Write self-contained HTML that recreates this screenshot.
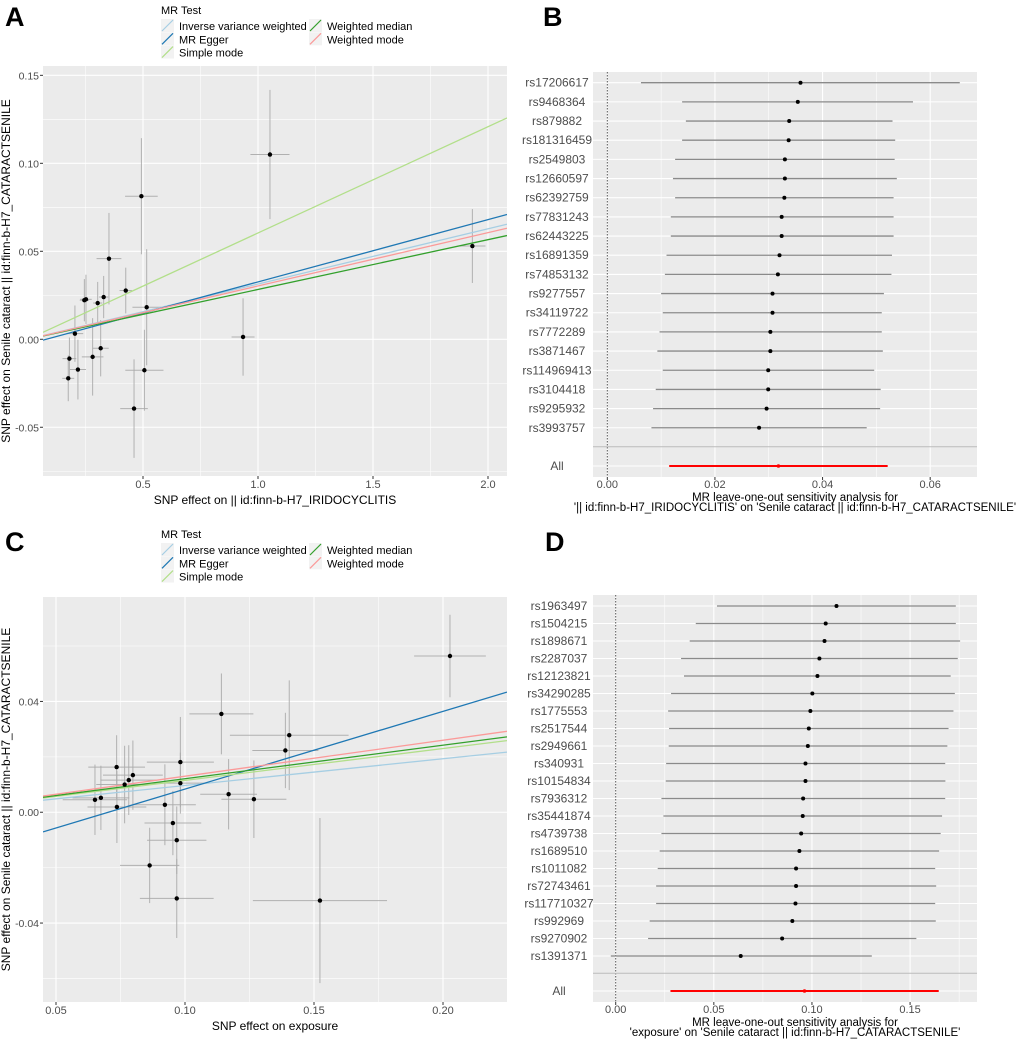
<!DOCTYPE html>
<html><head><meta charset="utf-8">
<style>
html,body{margin:0;padding:0;background:#fff;}
svg{display:block;font-family:"Liberation Sans",Arial,sans-serif;}
</style></head>
<body>
<svg id="fig" width="1020" height="1046" viewBox="0 0 1020 1046" xmlns="http://www.w3.org/2000/svg">
<text x="5" y="26" font-size="27" font-weight="bold">A</text>
<text x="543" y="26" font-size="27" font-weight="bold">B</text>
<text x="5" y="551" font-size="27" font-weight="bold">C</text>
<text x="545" y="551" font-size="27" font-weight="bold">D</text>
</svg>
<script>
// ---------- Data: panel A ----------
const aX   = [1.052,0.493,1.932,0.352,0.425,0.245,0.252,0.329,0.303,0.516,0.204,0.180,0.217,0.175,0.281,0.316,0.506,0.461,0.935];
const aY   = [0.105,0.0813,0.053,0.0458,0.0277,0.0222,0.0227,0.024,0.0206,0.0182,0.0032,-0.011,-0.0172,-0.0222,-0.010,-0.0051,-0.0176,-0.0394,0.0013];
const aXse = [0.085,0.071,0.057,0.054,0.027,0.02,0.025,0.02,0.02,0.062,0.036,0.03,0.035,0.026,0.047,0.035,0.083,0.06,0.05];
const aYse = [0.0367,0.033,0.021,0.026,0.013,0.012,0.014,0.012,0.012,0.033,0.016,0.012,0.017,0.013,0.022,0.016,0.023,0.028,0.022];
const aSlopes     = [0.0314,0.0354,0.0604,0.0283,0.0303];
const aIntercepts = [0,-0.0028,0,0,0];
const aXTicks = [0.5,1.0,1.5,2.0];
const aXTickLabels = ["0.5","1.0","1.5","2.0"];
const aYTicks = [-0.05,0,0.05,0.10,0.15];
const aYTickLabels = ["-0.05","0.00","0.05","0.10","0.15"];
// ---------- Data: panel C ----------
const cX   = [0.2027,0.1141,0.1404,0.1389,0.0982,0.0982,0.0735,0.0798,0.0782,0.0766,0.1169,0.1267,0.0651,0.0674,0.0736,0.0922,0.0953,0.0968,0.0863,0.0968,0.1523];
const cY   = [0.0564,0.0355,0.0278,0.0223,0.0181,0.0105,0.0163,0.0134,0.0116,0.010,0.0065,0.0047,0.0045,0.0052,0.0019,0.0027,-0.0039,-0.0101,-0.0192,-0.0311,-0.0319];
const cXse = [0.0139,0.0124,0.023,0.0128,0.013,0.011,0.011,0.0116,0.011,0.011,0.011,0.0126,0.0125,0.011,0.0114,0.012,0.011,0.0115,0.0115,0.0143,0.026];
const cYse = [0.0149,0.0146,0.0198,0.0136,0.0163,0.011,0.0115,0.0125,0.0126,0.014,0.0127,0.014,0.0127,0.0116,0.013,0.0146,0.0116,0.0122,0.0136,0.0143,0.0298];
const cSlopes     = [0.0966,0.2806,0.115,0.121,0.130];
const cIntercepts = [0,-0.0197,0,0,0];
const cXTicks = [0.05,0.10,0.15,0.20];
const cXTickLabels = ["0.05","0.10","0.15","0.20"];
const cYTicks = [-0.04,0,0.04];
const cYTickLabels = ["-0.04","0.00","0.04"];
const methodNames  = ["Inverse variance weighted","MR Egger","Simple mode","Weighted median","Weighted mode"];
const methodColors = ["#a6cee3","#1f78b4","#b2df8a","#33a02c","#fb9a99"];
// ---------- Data: panel B ----------
const bSnps = ["rs17206617","rs9468364","rs879882","rs181316459","rs2549803","rs12660597","rs62392759","rs77831243","rs62443225","rs16891359","rs74853132","rs9277557","rs34119722","rs7772289","rs3871467","rs114969413","rs3104418","rs9295932","rs3993757"];
const bEst = [0.0359,0.0354,0.0338,0.0337,0.0330,0.0330,0.0329,0.0324,0.0324,0.0320,0.0317,0.0307,0.0307,0.0303,0.0303,0.0299,0.0299,0.0296,0.0282];
const bLo  = [0.00625,0.0139,0.0146,0.0139,0.0126,0.0122,0.0126,0.0118,0.0118,0.0110,0.0107,0.0100,0.0103,0.0097,0.0093,0.0103,0.0090,0.0085,0.0082];
const bHi  = [0.0655,0.0568,0.0530,0.0535,0.0534,0.0538,0.0532,0.0532,0.0532,0.0529,0.0528,0.0514,0.0510,0.0510,0.0512,0.0496,0.0508,0.0507,0.0482];
const bAll = [0.0318,0.0115,0.0521];
const bTicks = [0,0.02,0.04,0.06];
const bTickLabels = ["0.00","0.02","0.04","0.06"];
// ---------- Data: panel D ----------
const dSnps = ["rs1963497","rs1504215","rs1898671","rs2287037","rs12123821","rs34290285","rs1775553","rs2517544","rs2949661","rs340931","rs10154834","rs7936312","rs35441874","rs4739738","rs1689510","rs1011082","rs72743461","rs117710327","rs992969","rs9270902","rs1391371"];
const dEst = [0.1125,0.1070,0.1064,0.1038,0.1028,0.1002,0.0992,0.0984,0.0979,0.0967,0.0967,0.0955,0.0953,0.0945,0.0936,0.0919,0.0919,0.0916,0.0900,0.0848,0.0637];
const dLo  = [0.0516,0.0408,0.0377,0.0333,0.0348,0.0282,0.0267,0.0272,0.0270,0.0257,0.0255,0.0233,0.0243,0.0233,0.0224,0.0214,0.0206,0.0206,0.0173,0.0165,-0.0025];
const dHi  = [0.1733,0.1733,0.1755,0.1743,0.1707,0.1728,0.1721,0.1696,0.1690,0.1679,0.1680,0.1679,0.1663,0.1656,0.1648,0.1628,0.1633,0.1628,0.1631,0.1532,0.1305];
const dAll = [0.0962,0.0279,0.1646];
const dTicks = [0,0.05,0.10,0.15];
const dTickLabels = ["0.00","0.05","0.10","0.15"];

const NS = "http://www.w3.org/2000/svg";
const svg = document.getElementById("fig");
function mk(tag, attrs, parent){
  const e = document.createElementNS(NS, tag);
  for (const k in attrs) e.setAttribute(k, attrs[k]);
  (parent || svg).appendChild(e);
  return e;
}
function lin(d0,d1,r0,r1){ return v => r0 + (v-d0)/(d1-d0)*(r1-r0); }

function scatterPanel(id, box, xd, yd, X, Y, XS, YS, slopes, ints, xt, xtl, yt, ytl, xTitle, yTitle, legendY){
  const g = mk("g", {});
  
  
  const sx = lin(xd[0],xd[1],box.l,box.r), sy = lin(yd[0],yd[1],box.b,box.t);
  const bg = mk("rect",{x:box.l,y:box.t,width:box.r-box.l,height:box.b-box.t,fill:"#ebebeb"},g);
  
  
  const dx = xt[1]-xt[0], dy = yt[1]-yt[0];
  for (let v = xt[0]-dx/2; v < xd[1]; v += dx/2){
    if (v < xd[0]) continue;
    const major = xt.some(t => Math.abs(t-v) < 1e-9);
    mk("line",{x1:sx(v),x2:sx(v),y1:box.t,y2:box.b,stroke:"#fff","stroke-width":major?1.1:0.55},g);
  }
  for (let v = yt[0]-dy; v < yd[1]; v += dy/2){
    if (v < yd[0]) continue;
    const major = yt.some(t => Math.abs(t-v) < 1e-9);
    mk("line",{x1:box.l,x2:box.r,y1:sy(v),y2:sy(v),stroke:"#fff","stroke-width":major?1.1:0.55},g);
  }
  const clipId = id + "clip";
  const cp = mk("clipPath",{id:clipId},g);
  mk("rect",{x:box.l,y:box.t,width:box.r-box.l,height:box.b-box.t},cp);
  const cg = mk("g",{"clip-path":"url(#"+clipId+")"},g);
  for (let i=0;i<X.length;i++){
    const eb = mk("g",{stroke:"#aaaaaa","stroke-width":1,opacity:0.9},cg);
    
    
    mk("line",{x1:sx(X[i]-XS[i]),x2:sx(X[i]+XS[i]),y1:sy(Y[i]),y2:sy(Y[i])},eb);
    mk("line",{x1:sx(X[i]),x2:sx(X[i]),y1:sy(Y[i]-YS[i]),y2:sy(Y[i]+YS[i])},eb);
  }
  for (let m=0;m<slopes.length;m++){
    const l = mk("line",{x1:sx(xd[0]),x2:sx(xd[1]),y1:sy(ints[m]+slopes[m]*xd[0]),y2:sy(ints[m]+slopes[m]*xd[1]),stroke:methodColors[m],"stroke-width":1.3},cg);
    
    
  }
  for (let i=0;i<X.length;i++){
    const p = mk("circle",{cx:sx(X[i]),cy:sy(Y[i]),r:2.2,fill:"#000"},cg);
    
    
  }
  for (let i=0;i<xt.length;i++){
    mk("line",{x1:sx(xt[i]),x2:sx(xt[i]),y1:box.b,y2:box.b+3,stroke:"#333"},g);
    const t = mk("text",{x:sx(xt[i]),y:box.b+12,"font-size":11,fill:"#4d4d4d","text-anchor":"middle"},g);
    t.textContent = xtl[i];
    
    
  }
  for (let i=0;i<yt.length;i++){
    mk("line",{x1:box.l-3,x2:box.l,y1:sy(yt[i]),y2:sy(yt[i]),stroke:"#333"},g);
    const t = mk("text",{x:box.l-4,y:sy(yt[i])+4,"font-size":10.5,fill:"#4d4d4d","text-anchor":"end"},g);
    t.textContent = ytl[i];
    
    
  }
  const xtT = mk("text",{x:(box.l+box.r)/2,y:box.b+28,"font-size":12,"text-anchor":"middle"},g);
  xtT.textContent = xTitle;
  
  
  const ytT = mk("text",{x:0,y:0,"font-size":12,"text-anchor":"middle",transform:"translate(10,"+((box.t+box.b)/2)+") rotate(-90)"},g);
  ytT.textContent = yTitle;
  
  
  // legend
  const lg = mk("g",{},g);
  
  
  const lt = mk("text",{x:161,y:legendY,"font-size":11},lg);
  lt.textContent = "MR Test";
  const pos = [[161,0],[161,1],[161,2],[309,0],[309,1]];
  for (let m=0;m<methodNames.length;m++){
    const kx = pos[m][0], ky = legendY + 5 + pos[m][1]*13.3;
    const e = mk("g",{},lg);
    
    
    mk("rect",{x:kx,y:ky,width:13,height:13,fill:"#f2f2f2"},e);
    mk("line",{x1:kx+1,y1:ky+12,x2:kx+12,y2:ky+1,stroke:methodColors[m],"stroke-width":1.2},e);
    const tx = mk("text",{x:kx+18,y:ky+11,"font-size":11},e);
    tx.textContent = methodNames[m];
  }
}

function forestPanel(id, box, xd, snps, est, lo, hi, all, rowY0, rowStep, allY, sepY, labelX, ticks, tickLabels, title1, title2){
  const g = mk("g",{});
  
  
  const sx = lin(xd[0],xd[1],box.l,box.r);
  const bg = mk("rect",{x:box.l,y:box.t,width:box.r-box.l,height:box.b-box.t,fill:"#ebebeb"},g);
  
  
  const dt = ticks[1]-ticks[0];
  for (let v = ticks[0]-dt/2; v < xd[1]; v += dt/2){
    if (v < xd[0]) continue;
    const major = ticks.some(t => Math.abs(t-v) < 1e-9);
    mk("line",{x1:sx(v),x2:sx(v),y1:box.t,y2:box.b,stroke:"#fff","stroke-width":major?1.1:0.55},g);
  }
  const ys = snps.map((s,i)=>rowY0 + i*rowStep);
  ys.concat([allY]).forEach(y => mk("line",{x1:box.l,x2:box.r,y1:y,y2:y,stroke:"#fff","stroke-width":1.1},g));
  mk("line",{x1:sx(0),x2:sx(0),y1:box.t,y2:box.b,stroke:"#555","stroke-width":1,"stroke-dasharray":"1.5,1.5"},g);
  mk("line",{x1:box.l,x2:box.r,y1:sepY,y2:sepY,stroke:"#bbbbbb","stroke-width":1},g);
  for (let i=0;i<snps.length;i++){
    const r = mk("g",{},g);
    
    
    mk("line",{x1:sx(lo[i]),x2:sx(hi[i]),y1:ys[i],y2:ys[i],stroke:"#8a8a8a","stroke-width":1.3},r);
    mk("circle",{cx:sx(est[i]),cy:ys[i],r:2,fill:"#000"},r);
    const t = mk("text",{x:labelX,y:ys[i]+4,"font-size":12,fill:"#4d4d4d","text-anchor":"middle"},r);
    t.textContent = snps[i];
  }
  const ar = mk("g",{},g);
  
  
  mk("line",{x1:sx(all[1]),x2:sx(all[2]),y1:allY,y2:allY,stroke:"#ff0000","stroke-width":2},ar);
  mk("circle",{cx:sx(all[0]),cy:allY,r:1.8,fill:"#ff0000"},ar);
  const at = mk("text",{x:labelX,y:allY+4,"font-size":12,fill:"#4d4d4d","text-anchor":"middle"},ar);
  at.textContent = "All";
  for (let i=0;i<ticks.length;i++){
    mk("line",{x1:sx(ticks[i]),x2:sx(ticks[i]),y1:box.b,y2:box.b+3,stroke:"#333"},g);
    const t = mk("text",{x:sx(ticks[i]),y:box.b+11,"font-size":11,fill:"#4d4d4d","text-anchor":"middle"},g);
    t.textContent = tickLabels[i];
    
    
  }
  const cx = (box.l+box.r)/2 + 10;
  const t1 = mk("text",{x:cx,y:box.b+24,"font-size":11.5,"text-anchor":"middle"},g);
  t1.textContent = title1;
  
  
  const t2 = mk("text",{x:cx,y:box.b+34,"font-size":11.5,"text-anchor":"middle"},g);
  t2.textContent = title2;
  
  
}

scatterPanel("a",{l:43,r:507,t:66,b:476},[0.0652,2.0826],[-0.0777,0.1553],aX,aY,aXse,aYse,aSlopes,aIntercepts,
  aXTicks,aXTickLabels,aYTicks,aYTickLabels,"SNP effect on || id:finn-b-H7_IRIDOCYCLITIS","SNP effect on Senile cataract || id:finn-b-H7_CATARACTSENILE",14);
scatterPanel("c",{l:43,r:507,t:597,b:1002},[0.04496,0.2248],[-0.0685,0.0777],cX,cY,cXse,cYse,cSlopes,cIntercepts,
  cXTicks,cXTickLabels,cYTicks,cYTickLabels,"SNP effect on exposure","SNP effect on Senile cataract || id:finn-b-H7_CATARACTSENILE",538);
forestPanel("b",{l:593,r:977,t:72,b:477},[-0.00266,0.0687],bSnps,bEst,bLo,bHi,bAll,82.7,19.17,466,446.7,557,
  bTicks,bTickLabels,"MR leave-one-out sensitivity analysis for","'|| id:finn-b-H7_IRIDOCYCLITIS' on 'Senile cataract || id:finn-b-H7_CATARACTSENILE'");
forestPanel("d",{l:593,r:977,t:595,b:1002},[-0.01157,0.1841],dSnps,dEst,dLo,dHi,dAll,606,17.5,991,973.3,559,
  dTicks,dTickLabels,"MR leave-one-out sensitivity analysis for","'exposure' on 'Senile cataract || id:finn-b-H7_CATARACTSENILE'");
</script>
</body></html>
